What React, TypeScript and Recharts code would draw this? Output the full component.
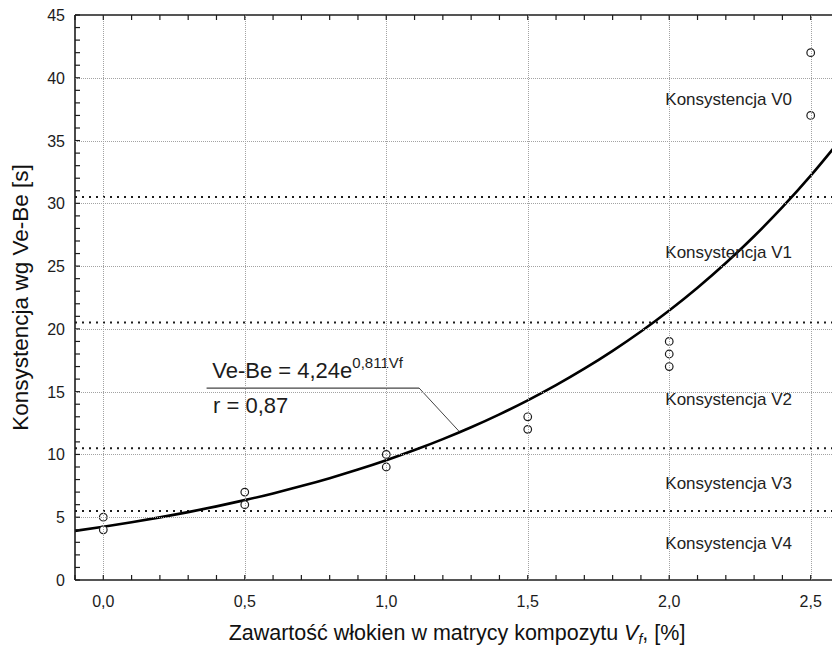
import React from 'react';
import {
  ComposedChart,
  Line,
  Scatter,
  XAxis,
  YAxis,
  ReferenceLine,
  Label,
} from 'recharts';

const FONT = 'Arial, "Liberation Sans", sans-serif';
const INK = '#1c1c1c';

// measured Ve-Be times per fibre content
const fibreContent = [0, 0, 0.5, 0.5, 1.0, 1.0, 1.5, 1.5, 2.0, 2.0, 2.0, 2.5, 2.5];
const veBeTime = [5, 4, 7, 6, 10, 9, 13, 12, 19, 18, 17, 42, 37];

// fitted curve Ve-Be = 4,24e^(0,811Vf)
const FIT_A = 4.24;
const FIT_B = 0.811;
const fitX = [
  -0.1, 0, 0.1, 0.2, 0.3, 0.4, 0.5, 0.6, 0.7, 0.8, 0.9, 1.0, 1.1, 1.2, 1.3,
  1.4, 1.5, 1.6, 1.7, 1.8, 1.9, 2.0, 2.1, 2.2, 2.3, 2.4, 2.5, 2.6,
];

// consistency class borders and class names
const classBorders = [5.5, 10.5, 20.5, 30.5];
const classNames = ['Konsystencja V0', 'Konsystencja V1', 'Konsystencja V2', 'Konsystencja V3', 'Konsystencja V4'];
const classLabelY = [38.3, 26.1, 14.4, 7.7, 2.9];
const CLASS_LABEL_X = 2.21;

const xMajorTicks = [0, 0.5, 1.0, 1.5, 2.0, 2.5];
const yMajorTicks = [0, 5, 10, 15, 20, 25, 30, 35, 40, 45];

const xMinorTicks = Array.from({ length: 28 }, (_, i) => Math.round((-0.1 + i * 0.1) * 10) / 10);
const yMinorTicks = Array.from({ length: 46 }, (_, i) => i);

const points = fibreContent.map((x, i) => ({ x, y: veBeTime[i] }));
const fitLine = fitX.map((x) => ({ x, y: FIT_A * Math.exp(FIT_B * x) }));
const classLabels = classNames.map((name, i) => ({ x: CLASS_LABEL_X, y: classLabelY[i], name }));

// chart box
const CHART_W = 850;
const CHART_H = 648;
const MARGIN = { top: 5, right: 11, bottom: 0, left: 0 };
const TOP_AXIS_H = 10;
const BOTTOM_AXIS_H = 68;
const Y_AXIS_W = 75;
const PLOT_W = CHART_W - MARGIN.left - MARGIN.right - Y_AXIS_W;
const PLOT_H = CHART_H - MARGIN.top - MARGIN.bottom - TOP_AXIS_H - BOTTOM_AXIS_H;

const GRID_STROKE = '#a3a3a3';
const GRID_DASH = '1 1';

const fmtComma = (v: number) => v.toFixed(1).replace('.', ',');
const isMajor = (v: number, list: number[]) => list.some((t) => Math.abs(t - v) < 1e-6);

// bottom ticks point inwards; major ones also carry the vertical grid line
function BottomTick(props: any) {
  const { x, y, payload } = props;
  const v = payload.value as number;
  const major = isMajor(v, xMajorTicks);
  const gx = Math.round(x) + 0.5;
  return (
    <g>
      {major && (
        <line x1={gx} y1={y} x2={gx} y2={y - PLOT_H} stroke={GRID_STROKE} strokeDasharray={GRID_DASH} />
      )}
      <line x1={x} y1={y} x2={x} y2={y - 5} stroke={INK} strokeWidth={1.2} />
      {major && (
        <text x={x} y={y + 27} textAnchor="middle" fontSize={16} fontFamily={FONT} fill={INK}>
          {fmtComma(v)}
        </text>
      )}
    </g>
  );
}

function TopTick(props: any) {
  const { x, y } = props;
  return <line x1={x} y1={y} x2={x} y2={y + 5} stroke={INK} strokeWidth={1.2} />;
}

function LeftTick(props: any) {
  const { x, y, payload } = props;
  const v = payload.value as number;
  const major = isMajor(v, yMajorTicks);
  const inner = v > 0 && v < 45;
  const gy = Math.round(y) + 0.5;
  return (
    <g>
      {major && inner && (
        <line x1={x} y1={gy} x2={x + PLOT_W} y2={gy} stroke={GRID_STROKE} strokeDasharray={GRID_DASH} />
      )}
      <line x1={x} y1={y} x2={x + 5} y2={y} stroke={INK} strokeWidth={1.2} />
      {major && (
        <text x={x - 10} y={y + 6} textAnchor="end" fontSize={16} fontFamily={FONT} fill={INK}>
          {v}
        </text>
      )}
    </g>
  );
}

function OpenCircle(props: any) {
  const { cx, cy } = props;
  return <circle cx={cx} cy={cy} r={3.8} fill="#fff" stroke={INK} strokeWidth={1.2} />;
}

function ClassText(props: any) {
  const { cx, cy, payload } = props;
  return (
    <text x={cx} y={cy} textAnchor="middle" dominantBaseline="central" fontSize={17} fontFamily={FONT} fill="#222">
      {payload.name}
    </text>
  );
}

// equation box: text positions and the leader line to the curve
const eqText = [{ x: 0.385, y: 16.09, kind: 'eq' }, { x: 0.388, y: 13.32, kind: 'r' }];
const leaderStart = { x: 0.365, y: 15.29 };
const leaderBend = { x: 1.116, y: 15.29 };
const leaderEnd = { x: 1.257, y: 11.85 };

function EquationText(props: any) {
  const { cx, cy, payload } = props;
  if (payload.kind === 'r') {
    return (
      <text x={cx} y={cy} fontSize={22} fontFamily={FONT} fill={INK}>
        r = 0,87
      </text>
    );
  }
  return (
    <text x={cx} y={cy} fontSize={22} fontFamily={FONT} fill={INK}>
      Ve-Be = 4,24e
      <tspan fontSize={15} dy={-10}>
        0,811Vf
      </tspan>
    </text>
  );
}

export default function App() {
  return (
    <div
      style={{
        position: 'fixed',
        left: 0,
        top: 0,
        width: 832,
        height: 648,
        overflow: 'hidden',
        background: '#fff',
      }}
    >
      <ComposedChart width={CHART_W} height={CHART_H} margin={MARGIN}>
        <XAxis
          type="number"
          dataKey="x"
          domain={[-0.1, 2.6]}
          ticks={xMinorTicks}
          interval={0}
          allowDataOverflow
          height={BOTTOM_AXIS_H}
          tickSize={0}
          tickMargin={0}
          tickLine={false}
          tick={<BottomTick />}
          axisLine={{ stroke: INK, strokeWidth: 1.6 }}
        >
          <Label
            content={(p: any) => {
              const vb = p.viewBox;
              return (
                <text x={vb.x + vb.width / 2} y={vb.y + 60} textAnchor="middle" fontSize={21.5} fontFamily={FONT} fill="#111">
                  Zawartość włokien w matrycy kompozytu <tspan fontStyle="italic">V</tspan>
                  <tspan fontStyle="italic" fontSize={14} dy={4}>f</tspan>
                  <tspan dy={-4}>, [%]</tspan>
                </text>
              );
            }}
          />
        </XAxis>
        <XAxis
          xAxisId="top"
          orientation="top"
          type="number"
          dataKey="x"
          domain={[-0.1, 2.6]}
          ticks={xMinorTicks}
          interval={0}
          allowDataOverflow
          height={TOP_AXIS_H}
          tickSize={0}
          tickMargin={0}
          tickLine={false}
          tick={<TopTick />}
          axisLine={{ stroke: INK, strokeWidth: 1.6 }}
        />
        <YAxis
          type="number"
          dataKey="y"
          domain={[0, 45]}
          ticks={yMinorTicks}
          interval={0}
          allowDataOverflow
          width={Y_AXIS_W}
          tickSize={0}
          tickMargin={0}
          tickLine={false}
          tick={<LeftTick />}
          axisLine={{ stroke: INK, strokeWidth: 1.6 }}
        >
          <Label
            content={(p: any) => {
              const vb = p.viewBox;
              const cy = vb.y + vb.height / 2;
              return (
                <text
                  x={28}
                  y={cy}
                  transform={`rotate(-90, 28, ${cy})`}
                  textAnchor="middle"
                  fontSize={22.5}
                  fontFamily={FONT}
                  fill="#111"
                >
                  Konsystencja wg Ve-Be [s]
                </text>
              );
            }}
          />
        </YAxis>
        {classBorders.map((b) => (
          <ReferenceLine key={b} y={b} stroke={INK} strokeWidth={2} strokeDasharray="2 5" />
        ))}
        <ReferenceLine
          segment={[leaderStart, leaderBend]}
          stroke="#444"
          strokeWidth={1.3}
        />
        <ReferenceLine
          segment={[leaderBend, leaderEnd]}
          stroke="#444"
          strokeWidth={1}
        />
        <Line
          data={fitLine}
          dataKey="y"
          type="monotone"
          stroke="#000"
          strokeWidth={2.6}
          dot={false}
          isAnimationActive={false}
        />
        <Scatter data={points} dataKey="y" shape={<OpenCircle />} isAnimationActive={false} />
        <Scatter data={classLabels} dataKey="y" shape={<ClassText />} isAnimationActive={false} />
        <Scatter data={eqText} dataKey="y" shape={<EquationText />} isAnimationActive={false} />
      </ComposedChart>
    </div>
  );
}
